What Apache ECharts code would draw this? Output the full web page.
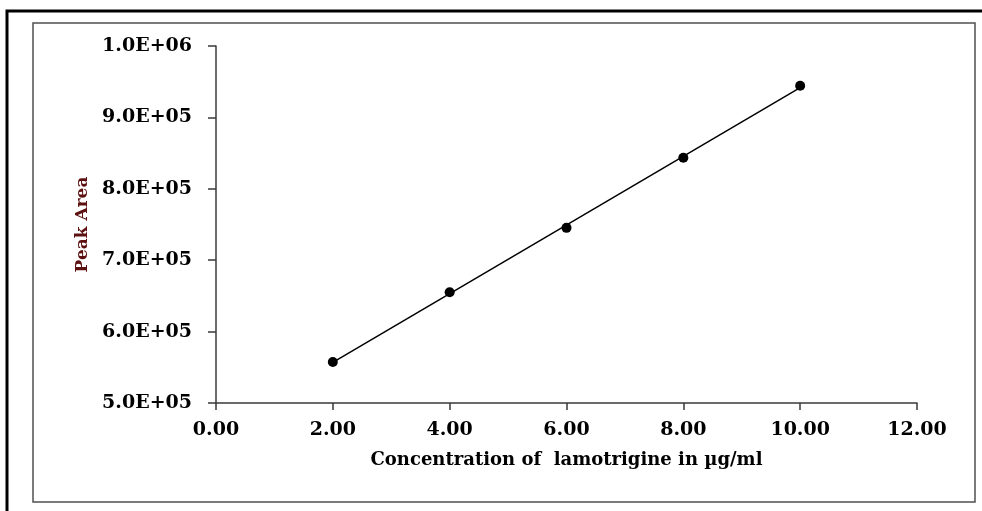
<!DOCTYPE html>
<html style="height: 100%">
  <head>
    <meta charset="UTF-8" />
    <title>Calibration curve</title>
    <script src="https://cdn.jsdelivr.net/npm/echarts/dist/echarts.min.js"></script>
  </head>
  <body style="height: 100%; margin: 0; background: #fff">
    <div id="main" style="width: 982px; height: 511px"></div>
    <script>
      // concentration (ug/ml) and peak area
      var concentration = [2, 4, 6, 8, 10];
      var peakArea = [557500, 655200, 745300, 843400, 944400];

      var FONT = '"DejaVu Serif", "Liberation Serif", serif';

      // least squares line through the points
      function fitLine(xs, ys) {
        var n = xs.length, mx = 0, my = 0;
        for (var i = 0; i < n; i++) { mx += xs[i]; my += ys[i]; }
        mx /= n; my /= n;
        var sxy = 0, sxx = 0;
        for (var j = 0; j < n; j++) {
          sxy += (xs[j] - mx) * (ys[j] - my);
          sxx += (xs[j] - mx) * (xs[j] - mx);
        }
        var slope = sxy / sxx;
        return { slope: slope, intercept: my - slope * mx };
      }

      var fit = fitLine(concentration, peakArea);
      var xFirst = concentration[0];
      var xLast = concentration[concentration.length - 1];
      var trend = [
        [xFirst, fit.intercept + fit.slope * xFirst],
        [xLast, fit.intercept + fit.slope * xLast]
      ];

      function sci(v) {
        var e = Math.floor(Math.log10(v) + 1e-9);
        var m = (v / Math.pow(10, e)).toFixed(1);
        return m + 'E+' + (e < 10 ? '0' + e : e);
      }

      var myChart = echarts.init(document.getElementById('main'));
      var option = {
        animation: false,
        graphic: [
          {
            type: 'rect',
            shape: { x: 7, y: 11, width: 1000, height: 520 },
            style: { fill: null, stroke: '#000', lineWidth: 3 },
            silent: true
          },
          {
            type: 'rect',
            shape: { x: 33, y: 23, width: 942, height: 479 },
            style: { fill: null, stroke: '#505050', lineWidth: 1.5 },
            silent: true
          }
        ],
        grid: { left: 216, right: 65, top: 46, bottom: 108 },
        xAxis: {
          type: 'value',
          min: 0,
          max: 12,
          interval: 2,
          name: 'Concentration of  lamotrigine in \u00b5g/ml',
          nameLocation: 'middle',
          nameGap: 48,
          nameTextStyle: { fontFamily: FONT, fontWeight: 'bold', fontSize: 18, color: '#000' },
          splitLine: { show: false },
          axisLine: { lineStyle: { color: '#3a3a3a', width: 1.5 } },
          axisTick: { show: true, inside: false, length: 7, lineStyle: { color: '#3a3a3a', width: 1.5 } },
          axisLabel: {
            margin: 18,
            fontFamily: FONT,
            fontWeight: 'bold',
            fontSize: 19,
            color: '#000',
            showMinLabel: true,
            showMaxLabel: true,
            formatter: function (v) { return v.toFixed(2); }
          }
        },
        yAxis: {
          type: 'value',
          min: 500000,
          max: 1000000,
          interval: 100000,
          name: 'Peak Area',
          nameLocation: 'middle',
          nameGap: 125,
          nameTextStyle: { fontFamily: FONT, fontWeight: 'bold', fontSize: 17, color: '#5c1010' },
          splitLine: { show: false },
          axisLine: { show: true, lineStyle: { color: '#3a3a3a', width: 1.5 } },
          axisTick: { show: true, inside: false, length: 8, lineStyle: { color: '#3a3a3a', width: 1.5 } },
          axisLabel: {
            margin: 24,
            fontFamily: FONT,
            fontWeight: 'bold',
            fontSize: 19,
            color: '#000',
            showMinLabel: true,
            showMaxLabel: true,
            formatter: sci
          }
        },
        series: [
          {
            type: 'line',
            data: trend,
            showSymbol: false,
            silent: true,
            lineStyle: { color: '#000', width: 1.5 },
            z: 2
          },
          {
            type: 'scatter',
            data: concentration.map(function (c, i) { return [c, peakArea[i]]; }),
            symbol: 'circle',
            symbolSize: 10,
            itemStyle: { color: '#000', opacity: 1 },
            z: 3
          }
        ]
      };
      myChart.setOption(option);
    </script>
  </body>
</html>
